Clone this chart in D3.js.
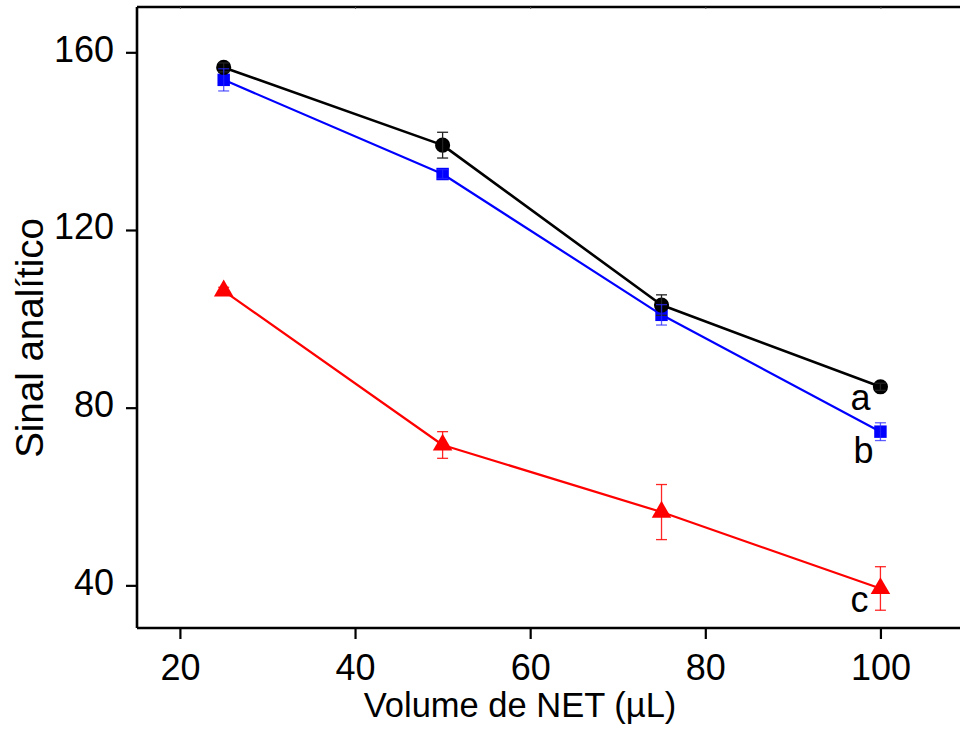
<!DOCTYPE html>
<html>
<head>
<meta charset="utf-8">
<script src="https://cdn.jsdelivr.net/npm/d3@7"></script>
<style>
  html, body { margin: 0; padding: 0; background: #fff; }
  svg { display: block; }
  text { font-family: "Liberation Sans", Arial, Helvetica, sans-serif; fill: #000; }
</style>
</head>
<body>
<svg id="chart" width="960" height="733"></svg>
<script>
// Volume de NET (µL) on the x axis
const volumes = [25, 50, 75, 100];

// Signal for each curve, with standard deviations
const signalA = [156.6, 139.1, 103.1, 84.7];
const errorA  = [1.0, 2.9, 2.3, 0.8];
const signalB = [153.8, 132.6, 100.9, 74.6];
const errorB  = [2.5, 1.0, 2.3, 2.0];
const signalC = [106.3, 71.6, 56.5, 39.3];
const errorC  = [0.8, 3.0, 6.2, 4.9];

const curveNames = ["a", "b", "c"];

const xTicks = [20, 40, 60, 80, 100];
const yTicks = [40, 80, 120, 160];

const svg = d3.select("#chart");

const plotLeft = 137, plotTop = 7, plotBottom = 628, plotRight = 968;
const x = d3.scaleLinear().domain([15.1, 110]).range([plotLeft, plotRight]);
const y = d3.scaleLinear().domain([30.4, 170.2]).range([plotBottom, plotTop]);

const series = [
  { name: curveNames[0], values: signalA, errors: errorA, color: "#000000", errColor: "#222", width: 2.6, symbol: d3.symbolCircle, size: 180, labelDx: -10, labelDy: 23 },
  { name: curveNames[1], values: signalB, errors: errorB, color: "#0000ff", errColor: "rgba(40,40,255,0.75)", width: 2.2, symbol: d3.symbolSquare, size: 155, labelDx: -7, labelDy: 31 },
  { name: curveNames[2], values: signalC, errors: errorC, color: "#ff0000", errColor: "rgba(255,0,0,0.85)", width: 2.2, symbol: d3.symbolTriangle, size: 165, labelDx: -12, labelDy: 24 }
];

// Frame: top border line (right border lies beyond the view)
svg.append("line")
  .attr("x1", plotLeft).attr("x2", plotRight)
  .attr("y1", plotTop).attr("y2", plotTop)
  .attr("stroke", "#000").attr("stroke-width", 2.6);

// Small inward ticks on the top border
svg.append("g")
  .attr("transform", `translate(0,${plotTop})`)
  .call(d3.axisTop(x).tickValues(xTicks).tickSize(-2).tickFormat(""))
  .call(g => g.select(".domain").remove())
  .call(g => g.selectAll("line").attr("stroke", "#555").attr("stroke-width", 1));

// Bottom axis
const xAxis = svg.append("g")
  .attr("transform", `translate(0,${plotBottom})`)
  .call(d3.axisBottom(x).tickValues(xTicks).tickSize(11).tickPadding(15).tickFormat(d3.format("d")));
xAxis.select(".domain").attr("stroke", "#000").attr("stroke-width", 2.6).attr("d", `M${plotLeft},0H${plotRight}`);
xAxis.selectAll(".tick line").attr("stroke", "#000").attr("stroke-width", 2.2);
xAxis.selectAll("text").style("font-size", "36px");

// Left axis
const yAxis = svg.append("g")
  .attr("transform", `translate(${plotLeft},0)`)
  .call(d3.axisLeft(y).tickValues(yTicks).tickSize(11).tickPadding(12).tickFormat(d3.format("d")));
yAxis.select(".domain").attr("stroke", "#000").attr("stroke-width", 2.6).attr("d", `M0,${plotTop}V${plotBottom}`);
yAxis.selectAll(".tick line").attr("stroke", "#000").attr("stroke-width", 2.2);
yAxis.selectAll("text").style("font-size", "36px").attr("dy", "0.25em");

// Axis titles
svg.append("text")
  .attr("x", 520).attr("y", 717)
  .attr("text-anchor", "middle")
  .style("font-size", "34.5px")
  .text("Volume de NET (µL)");

svg.append("text")
  .attr("transform", "translate(43,338) rotate(-90)")
  .attr("text-anchor", "middle")
  .style("font-size", "38.5px")
  .text("Sinal analítico");

// Connecting lines
const line = d3.line().x(d => x(d[0])).y(d => y(d[1]));
[...series].reverse().forEach(s => {
  svg.append("path")
    .datum(volumes.map((v, i) => [v, s.values[i]]))
    .attr("fill", "none")
    .attr("stroke", s.color)
    .attr("stroke-width", s.width)
    .attr("stroke-linejoin", "round")
    .attr("d", line);
});

// Markers (curve a drawn last so it sits on top)
[...series].reverse().forEach(s => {
  svg.append("g").selectAll("path")
    .data(volumes.map((v, i) => [v, s.values[i]]))
    .join("path")
    .attr("transform", d => `translate(${x(d[0])},${y(d[1])})`)
    .attr("d", d3.symbol().type(s.symbol).size(s.size))
    .attr("fill", s.color);
});

// Error bars with caps
series.forEach(s => {
  const g = svg.append("g").attr("stroke", s.errColor).attr("stroke-width", 1.3).attr("fill", "none");
  volumes.forEach((v, i) => {
    const cx = x(v), yHi = y(s.values[i] + s.errors[i]), yLo = y(s.values[i] - s.errors[i]);
    g.append("line").attr("x1", cx).attr("x2", cx).attr("y1", yHi).attr("y2", yLo);
    g.append("line").attr("x1", cx - 5.5).attr("x2", cx + 5.5).attr("y1", yHi).attr("y2", yHi);
    g.append("line").attr("x1", cx - 5.5).attr("x2", cx + 5.5).attr("y1", yLo).attr("y2", yLo);
  });
});

// Curve labels next to the last point
series.forEach(s => {
  const last = volumes.length - 1;
  svg.append("text")
    .attr("x", x(volumes[last]) + s.labelDx)
    .attr("y", y(s.values[last]) + s.labelDy)
    .attr("text-anchor", "end")
    .style("font-size", "36px")
    .text(s.name);
});
</script>
</body>
</html>
